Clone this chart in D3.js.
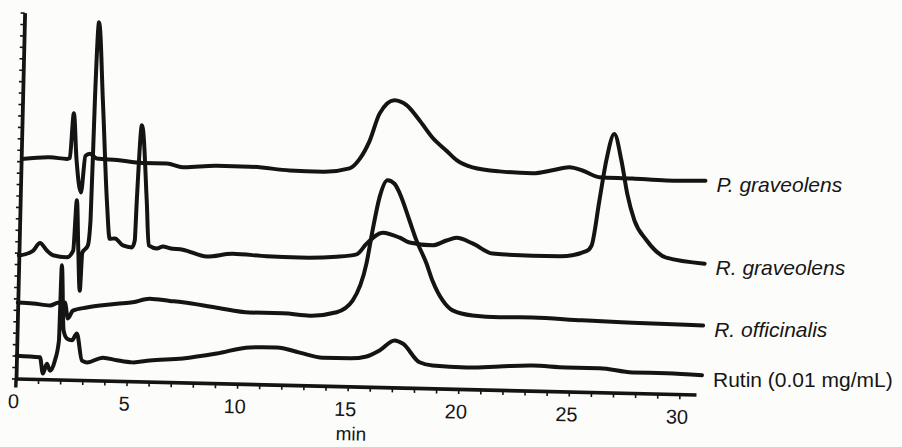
<!DOCTYPE html>
<html>
<head>
<meta charset="utf-8">
<script src="https://cdn.jsdelivr.net/npm/d3@7"></script>
<style>
  html, body { margin: 0; padding: 0; background: #fcfcfa; }
  svg { display: block; }
  text { font-family: "Liberation Sans", Arial, Helvetica, sans-serif; fill: #161616; }
</style>
</head>
<body>
<script>
// ---- Data (retention time in min, detector signal in arbitrary units; traces offset) ----
const seriesNames = ["P. graveolens", "R. graveolens", "R. officinalis", "Rutin (0.01 mg/mL)"];
const seriesItalic = [true, true, true, false];

const pGraveolens = [[0.05,19.2],[1.3,19.4],[2.07,19.3],[2.2,19.4],[2.33,23.3],[2.5,19.3],[2.74,16.4],[2.9,19.6],[3.1,19.8],[3.42,19.4],[4.33,19.3],[5.5,19.1],[6.59,19.1],[7.31,18.8],[8.85,19.0],[10.34,19.0],[12.15,18.75],[13.64,18.7],[14.85,19.05],[15.3,19.9],[15.73,21.5],[16.15,23.9],[16.81,25.1],[17.36,24.7],[17.96,23.4],[18.57,21.9],[19.21,20.8],[19.68,20.0],[20.41,19.4],[21.63,19.1],[23.12,19.0],[24.02,19.3],[24.79,19.6],[25.38,19.35],[26.15,18.8],[27.64,18.75],[29.18,18.65],[30.95,18.7]];

const rGraveolens = [[0.0,10.75],[0.63,11.2],[0.94,11.9],[1.26,11.25],[1.54,10.85],[2.17,10.7],[2.45,11.3],[2.56,15.7],[2.68,11.3],[2.79,7.8],[2.86,11.1],[3.11,11.8],[3.2,14.0],[3.27,24.5],[3.37,31.3],[3.63,24.5],[3.92,15.7],[4.09,12.4],[4.32,12.45],[4.69,11.85],[5.1,11.7],[5.22,12.3],[5.27,15.8],[5.42,22.4],[5.72,15.8],[5.86,11.9],[6.23,11.65],[6.5,11.85],[6.81,11.7],[7.4,11.6],[8.49,11.05],[9.66,11.35],[11.2,11.2],[12.69,11.15],[14.36,11.3],[15.26,11.55],[15.7,12.5],[16.42,13.5],[17.19,13.1],[17.64,12.7],[18.69,12.5],[19.31,12.95],[19.76,13.2],[20.49,12.75],[21.4,11.9],[23.21,11.8],[24.43,11.8],[25.64,12.3],[25.87,12.8],[26.18,16.8],[26.45,20.3],[26.78,22.6],[27.13,20.3],[27.43,17.4],[27.78,15.1],[28.34,13.4],[29.26,11.9],[31.0,11.45]];

const rOfficinalis = [[0.0,6.65],[0.69,6.6],[1.46,6.45],[1.81,6.7],[2.13,6.75],[2.28,5.35],[2.5,6.05],[3.13,6.35],[3.72,6.55],[4.48,6.75],[5.2,6.9],[5.96,7.25],[6.87,7.1],[7.46,7.0],[9.0,6.6],[10.49,6.25],[11.99,6.25],[13.21,6.1],[14.42,6.45],[15.13,7.5],[15.72,10.8],[15.96,13.7],[16.24,16.6],[16.58,18.1],[16.9,17.8],[17.14,17.0],[17.62,14.6],[17.95,12.9],[18.43,10.9],[18.72,9.4],[19.2,7.7],[19.66,6.85],[20.56,6.45],[21.79,6.35],[23.28,6.4],[25.54,6.25],[27.8,6.15],[31.0,6.05]];

const rutin = [[0.0,2.0],[1.06,1.9],[1.21,0.5],[1.38,1.35],[1.53,0.75],[1.74,1.65],[1.9,3.4],[1.95,10.0],[2.1,4.3],[2.26,3.6],[2.49,3.45],[2.7,4.05],[2.96,1.7],[3.19,1.55],[3.91,2.0],[4.54,1.8],[5.26,1.65],[6.03,1.85],[7.52,2.1],[9.05,2.6],[10.53,3.2],[11.75,3.25],[12.79,2.85],[13.84,2.45],[15.06,2.45],[15.82,2.65],[16.4,3.2],[17.07,4.1],[17.44,3.85],[18.22,2.25],[18.81,2.0],[20.35,1.9],[21.84,2.05],[23.33,2.2],[24.87,2.1],[26.36,2.1],[27.85,1.8],[29.39,1.8],[31.0,1.7]];

const xTickMinor = d3.range(0, 31, 1);
const xTickLabels = [0, 5, 10, 15, 20, 25, 30];
const yTicks = d3.range(0, 33, 1);
const xAxisTitle = "min";

// ---- Layout ----
const W = 902, H = 447;
const origin = { x: 16, y: 378.5 };
const tilt = 1.35; // scanned page is slightly rotated
const ink = "#141414";

const svg = d3.select("body").append("svg").attr("width", W).attr("height", H);
svg.append("rect").attr("width", W).attr("height", H).attr("fill", "#fcfcfa");

const g = svg.append("g").attr("transform", `translate(${origin.x},${origin.y}) rotate(${tilt})`);

const x = d3.scaleLinear().domain([0, 30.75]).range([0, 30.75 * 22.12]);
const y = d3.scaleLinear().domain([0, 32]).range([0, -366]);

// X axis: minor ticks
const xAxisMinor = d3.axisBottom(x).tickValues(xTickMinor).tickSize(5).tickSizeOuter(0).tickFormat("");
const gxm = g.append("g").call(xAxisMinor);
gxm.select(".domain").attr("stroke", ink).attr("stroke-width", 3.6);
gxm.selectAll(".tick line").attr("stroke", ink).attr("stroke-width", 1.6);

// X axis: labels
const xAxisLab = d3.axisBottom(x).tickValues(xTickLabels).tickSize(0).tickPadding(15.5).tickFormat(d3.format("d"));
const gxl = g.append("g").call(xAxisLab);
gxl.select(".domain").remove();
gxl.selectAll(".tick text")
  .attr("font-size", 20).attr("dx", "-0.12em")
  .style("font-family", '"Liberation Sans", Arial, sans-serif').attr("fill", ink);

g.append("text")
  .attr("x", x(15.2)).attr("y", 54)
  .attr("text-anchor", "middle").attr("font-size", 19)
  .text(xAxisTitle);

// Y axis (no labels)
const yAxis = d3.axisLeft(y).tickValues(yTicks).tickSize(4).tickSizeOuter(0).tickFormat("");
const gy = g.append("g").call(yAxis);
gy.select(".domain").attr("stroke", ink).attr("stroke-width", 3.8);
gy.selectAll(".tick line").attr("stroke", ink).attr("stroke-width", 1.6);
g.append("line").attr("x1", x(0)).attr("x2", x(0)).attr("y1", y(0)).attr("y2", y(0) + 9)
  .attr("stroke", ink).attr("stroke-width", 3.4);

// Traces
const allSeries = [pGraveolens, rGraveolens, rOfficinalis, rutin];
const line = d3.line().x(d => x(d[0])).y(d => y(d[1])).curve(d3.curveMonotoneX);

g.selectAll("path.trace").data(allSeries).join("path")
  .attr("class", "trace")
  .attr("d", line)
  .attr("fill", "none")
  .attr("stroke", ink)
  .attr("stroke-width", 4)
  .attr("stroke-linejoin", "round")
  .attr("stroke-linecap", "round");

// Series labels at the right end of each trace (page is not rotated for these)
const rad = tilt * Math.PI / 180;
function toScreen(t, v) {
  const u = x(t), w = y(v);
  return [origin.x + u * Math.cos(rad) - w * Math.sin(rad), origin.y + u * Math.sin(rad) + w * Math.cos(rad)];
}
allSeries.forEach((s, i) => {
  const end = s[s.length - 1];
  const p = toScreen(end[0], end[1]);
  svg.append("text")
    .attr("x", p[0] + 11)
    .attr("y", p[1] + 11.5)
    .attr("font-size", 21)
    .attr("font-style", seriesItalic[i] ? "italic" : "normal")
    .text(seriesNames[i]);
});
</script>
</body>
</html>
